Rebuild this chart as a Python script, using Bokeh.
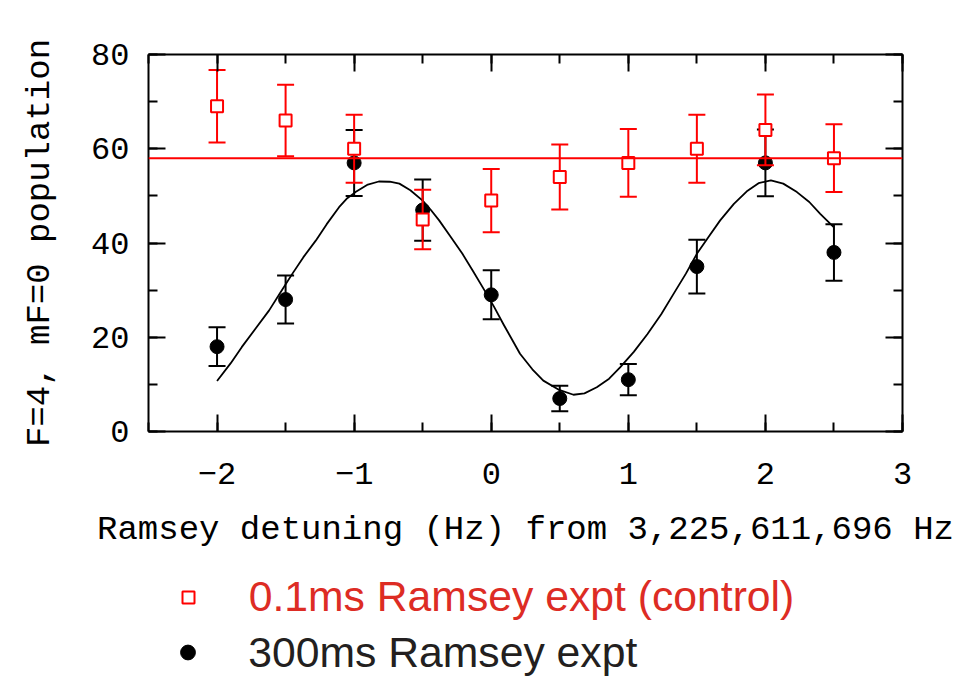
from bokeh.plotting import figure
from bokeh.layouts import column
from bokeh.models import (Span, LinearAxis, SingleIntervalTicker, Legend, LegendItem,
                          ColumnDataSource, CustomJSTickFormatter, Range1d, Grid)
from bokeh.embed import file_html
from bokeh.resources import INLINE

# ---- data ----
detuning = [-2.0, -1.5, -1.0, -0.5, 0.0, 0.5, 1.0, 1.5, 2.0, 2.5]
control_pop = [69, 66, 60, 45, 49, 54, 57, 60, 64, 58]
control_err = [7.7, 7.6, 7.2, 6.3, 6.7, 6.9, 7.2, 7.2, 7.5, 7.2]
ramsey_pop = [18, 28, 57, 47, 29, 7, 11, 35, 57, 38]
ramsey_err = [4.1, 5.1, 7.0, 6.5, 5.2, 2.7, 3.3, 5.7, 7.1, 6.0]
control_mean = 58
fit_x = [-2.0, -1.9, -1.82, -1.72, -1.62, -1.54, -1.45, -1.37, -1.28, -1.2, -1.11,
         -1.05, -0.99, -0.9, -0.82, -0.74, -0.67, -0.59, -0.5, -0.44, -0.38, -0.3,
         -0.21, -0.13, -0.05, 0.02, 0.09, 0.21, 0.3, 0.38, 0.49, 0.6, 0.68, 0.77,
         0.86, 0.94, 1.04, 1.14, 1.24, 1.33, 1.42, 1.5, 1.59, 1.67, 1.77, 1.87,
         1.95, 2.04, 2.13, 2.23, 2.32, 2.4, 2.5]
fit_y = [10.7, 14.5, 17.9, 21.8, 25.7, 29.4, 33.5, 37.0, 40.5, 44.0, 47.6,
         49.5, 50.8, 52.4, 53.05, 53.0, 52.6, 51.2, 49.0, 47.0, 44.8, 41.5,
         37.7, 33.9, 30.0, 26.5, 22.7, 16.5, 13.2, 10.8, 8.9, 7.8, 8.1, 9.4,
         11.2, 13.6, 16.9, 20.7, 24.9, 29.2, 33.5, 37.7, 41.5, 44.8, 48.3, 51.1,
         52.7, 53.3, 52.6, 50.8, 48.7, 46.2, 43.3]
x_label = "Ramsey detuning (Hz) from 3,225,611,696 Hz"
y_label = "F=4, mF=0 population"
control_name = "0.1ms Ramsey expt (control)"
ramsey_name = "300ms Ramsey expt"

AX_FONT = "Liberation Mono"
RED = "red"
CONTROL_TEXT = "#dd2c24"
RAMSEY_TEXT = "#231f20"

p = figure(width=961, height=570, x_range=Range1d(-2.5, 3), y_range=Range1d(0, 80),
           output_backend="svg", toolbar_location=None,
           x_axis_location=None, y_axis_location=None,
           min_border_left=148, min_border_right=59, min_border_top=54,
           min_border_bottom=139)
p.outline_line_color = None
p.background_fill_color = "white"
p.border_fill_color = "white"
p.center = [c for c in p.center if not isinstance(c, Grid)]


def style_axis(ax, labels):
    ax.axis_line_width = 2
    ax.axis_line_color = "black"
    ax.major_tick_in = 17
    ax.major_tick_out = 0
    ax.minor_tick_in = 9
    ax.minor_tick_out = 0
    ax.major_tick_line_width = 2
    ax.minor_tick_line_width = 2
    ax.major_tick_line_color = "black"
    ax.minor_tick_line_color = "black"
    if labels:
        ax.major_label_text_font = AX_FONT
        ax.major_label_text_font_size = "32px"
        ax.major_label_text_color = "black"
        ax.axis_label_text_font = AX_FONT
        ax.axis_label_text_font_size = "34px"
        ax.axis_label_text_font_style = "normal"
        ax.axis_label_text_color = "black"
    else:
        ax.formatter = CustomJSTickFormatter(code="return ''")
        ax.major_label_text_font_size = "1px"
        ax.major_label_standoff = 0


xt = lambda: SingleIntervalTicker(interval=1, num_minor_ticks=2)
yt = lambda: SingleIntervalTicker(interval=20, num_minor_ticks=2)

bottom = LinearAxis(ticker=xt(), axis_label=x_label)
style_axis(bottom, True)
bottom.major_label_standoff = 31
bottom.axis_label_standoff = 24
bottom.major_label_overrides = {-2: "\u22122", -1: "\u22121"}
p.add_layout(bottom, "below")

left = LinearAxis(ticker=yt(), axis_label=y_label)
style_axis(left, True)
left.major_label_standoff = 19
left.axis_label_standoff = 29
p.add_layout(left, "left")

top = LinearAxis(ticker=xt())
style_axis(top, False)
p.add_layout(top, "above")

right = LinearAxis(ticker=yt())
style_axis(right, False)
p.add_layout(right, "right")

# ---- sources ----
rsrc = ColumnDataSource(dict(x=detuning, y=ramsey_pop,
                             lo=[v - e for v, e in zip(ramsey_pop, ramsey_err)],
                             hi=[v + e for v, e in zip(ramsey_pop, ramsey_err)]))
csrc = ColumnDataSource(dict(x=detuning, y=control_pop,
                             lo=[v - e for v, e in zip(control_pop, control_err)],
                             hi=[v + e for v, e in zip(control_pop, control_err)]))

square_style = dict(marker="square", size=12, fill_color="white", line_color=RED, line_width=2)
dot_style = dict(marker="circle", size=14, fill_color="black", line_color="black")

# fit curve
p.line(fit_x, fit_y, line_color="black", line_width=1.8, line_join="round")

# black data
p.segment(x0="x", y0="lo", x1="x", y1="hi", source=rsrc, line_color="black", line_width=2)
p.scatter("x", "lo", source=rsrc, marker="dash", size=17, line_color="black", line_width=2)
p.scatter("x", "hi", source=rsrc, marker="dash", size=17, line_color="black", line_width=2)
p.scatter("x", "y", source=rsrc, **dot_style)

# control mean line
p.add_layout(Span(location=control_mean, dimension="width", line_color=RED, line_width=2))

# red data
p.segment(x0="x", y0="lo", x1="x", y1="hi", source=csrc, line_color=RED, line_width=2)
p.scatter("x", "lo", source=csrc, marker="dash", size=17, line_color=RED, line_width=2)
p.scatter("x", "hi", source=csrc, marker="dash", size=17, line_color=RED, line_width=2)
p.scatter("x", "y", source=csrc, **square_style)

# ---- legend strip below the plot (its frame aligns with the plot frame) ----
lf = figure(width=961, height=107, x_range=Range1d(0, 1), y_range=Range1d(0, 1),
            output_backend="svg", toolbar_location=None,
            x_axis_location=None, y_axis_location=None,
            min_border=0, min_border_left=0, min_border_right=0,
            min_border_top=0, min_border_bottom=0)
lf.outline_line_color = None
lf.border_fill_color = "white"
lf.center = [c for c in lf.center if not isinstance(c, Grid)]
# same series (outside this strip's ranges) only serve as legend glyph sources
sq_leg = lf.scatter("x", "y", source=csrc, **square_style)
dot_leg = lf.scatter("x", "y", source=rsrc, **dot_style)

common = dict(padding=0, margin=0, border_line_color=None, background_fill_alpha=0,
              label_text_font="Liberation Sans", label_text_font_size="42.7px",
              glyph_height=60, label_height=60)
leg1 = Legend(items=[LegendItem(label=control_name, renderers=[sq_leg])],
              location=(24.7, 50.3), glyph_width=30,
              label_standoff=46, label_text_color=CONTROL_TEXT, **common)
leg2 = Legend(items=[LegendItem(label=ramsey_name, renderers=[dot_leg])],
              location=(21.2, -5.3), glyph_width=37,
              label_standoff=42, label_text_color=RAMSEY_TEXT, **common)
lf.add_layout(leg1, "center")
lf.add_layout(leg2, "center")

layout = column(p, lf, spacing=0)
open("out.html", "w").write(file_html(layout, INLINE))
